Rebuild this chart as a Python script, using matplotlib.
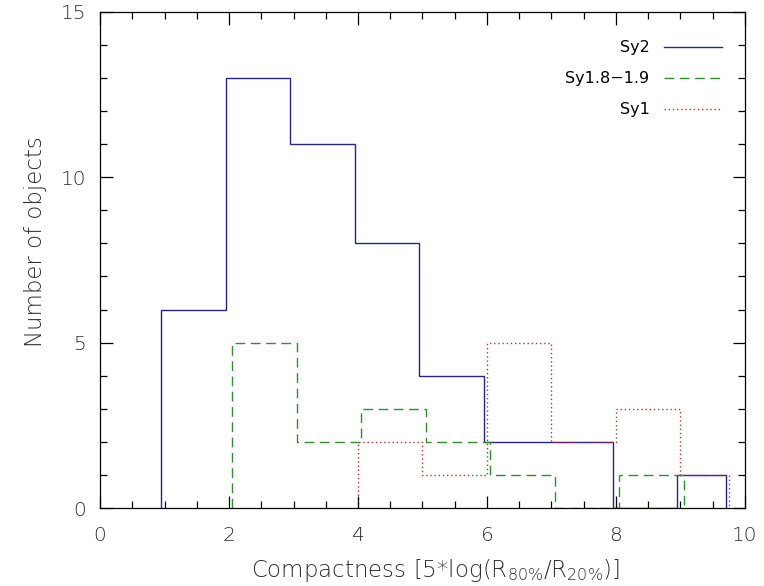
import numpy as np
import matplotlib
matplotlib.use("Agg")
import matplotlib.pyplot as plt
from matplotlib.ticker import MultipleLocator

# ------------------------------------------------------------------
# Histogram data (bin edges are offset per class)
# ------------------------------------------------------------------
sy2_edges = [0.95, 1.95, 2.95, 3.95, 4.95, 5.95, 6.95, 7.95, 8.95, 9.70]
sy2_counts = [6, 13, 11, 8, 4, 2, 2, 0, 1]

sy18_edges = [2.05, 3.05, 4.05, 5.05, 6.05, 7.05, 8.05, 9.05]
sy18_counts = [5, 2, 3, 2, 1, 0, 1]

sy1_edges = [4.00, 5.00, 6.00, 7.00, 8.00, 9.00, 9.75]
sy1_counts = [2, 1, 5, 2, 3, 1]

labels = ["Sy2", "Sy1.8\u22121.9", "Sy1"]
colors = ["#24248c", "#2f8f2f", "#c03030"]
styles = ["-", (0, (7, 4)), (0, (1, 2))]

plt.rcParams["mathtext.default"] = "regular"
text_col = "#2e2e2e"

fig = plt.figure(figsize=(7.64, 5.86), dpi=100)
ax = fig.add_axes([0.131, 0.133, 0.844, 0.847])

series = [(sy2_edges, sy2_counts), (sy18_edges, sy18_counts), (sy1_edges, sy1_counts)]
for (edges, counts), col, ls in zip(series, colors, styles):
    ax.stairs(counts, edges, baseline=0, color=col, linestyle=ls, linewidth=1.0)

ax.set_xlim(0, 10)
ax.set_ylim(0, 15)
ax.xaxis.set_major_locator(MultipleLocator(2))
ax.xaxis.set_minor_locator(MultipleLocator(0.5))
ax.yaxis.set_major_locator(MultipleLocator(5))
ax.yaxis.set_minor_locator(MultipleLocator(1))
ax.tick_params(which="both", direction="in", top=True, right=True,
               colors="black", labelcolor=text_col, labelsize=14.5, width=0.9)
ax.tick_params(axis="x", which="major", length=9, pad=13)
ax.tick_params(axis="y", which="major", length=9, pad=10)
ax.tick_params(which="minor", length=5)
for sp in ax.spines.values():
    sp.set_linewidth(0.9)
for lab in ax.get_xticklabels() + ax.get_yticklabels():
    lab.set_fontweight("light")

ax.set_xlabel("Compactness [5*log(R$_{80\\%}$/R$_{20\\%}$)]", fontsize=16.5,
              color=text_col, fontweight="light", va="center")
ax.set_ylabel("Number of objects", fontsize=16.5, color=text_col,
              fontweight="light", va="center")
ax.xaxis.set_label_coords(0.52, -0.125)
ax.yaxis.set_label_coords(-0.10, 0.536)

# legend: right-aligned labels with line samples to their right
for i, (lab, col, ls) in enumerate(zip(labels, colors, styles)):
    y = 0.928 - i * 0.062
    ax.text(0.852, y, lab, transform=ax.transAxes, ha="right", va="center",
            fontsize=11.5, color="black")
    ax.plot([0.874, 0.964], [y, y], transform=ax.transAxes, color=col,
            linestyle=ls, linewidth=1.0)

fig.savefig("out.png", dpi=100)
